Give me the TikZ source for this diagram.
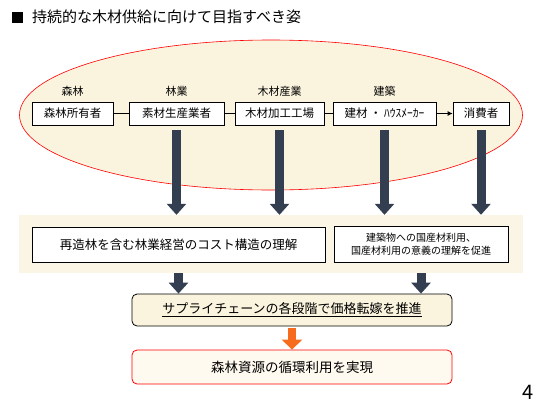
\documentclass[tikz,border=0pt]{standalone}
\usepackage{fontspec}
\setmainfont{Noto Sans CJK JP}
\usetikzlibrary{positioning,arrows.meta,shapes.geometric}
\definecolor{cream}{RGB}{250,243,222}
\definecolor{bandcream}{RGB}{250,245,228}
\definecolor{slate}{RGB}{51,63,80}
\definecolor{flame}{RGB}{247,108,28}
\definecolor{paper}{RGB}{255,250,240}

\begin{document}
\begin{tikzpicture}
    [
      x=1pt,
      y=-1pt,
      actor/.style=
      {
        draw,
        fill=white,
        line width=0.8pt,
        inner sep=0pt,
        minimum height=23pt,
        font=\fontsize{11.5}{13}\selectfont
      },
      sector/.style=
      {
        inner sep=0pt,
        font=\fontsize{11}{13}\selectfont
      },
      goal/.style=
      {
        draw,
        line width=0.8pt,
        inner sep=0pt,
        minimum height=36pt,
        align=center
      },
      bigarrow/.style=
      {
        draw=slate,
        line width=9pt,
        -{Triangle[width=19pt,length=11pt]}
      },
      link/.style=
      {
        line width=0.8pt
      }
    ]
    \useasboundingbox (0,0) rectangle (535,410);

    % title
    \node[anchor=west, inner sep=0pt, font=\fontsize{15}{17}\selectfont] (Title) at (12,17)
      {\rule{11pt}{11pt}\hspace{9pt}持続的な木材供給に向けて目指すべき姿};

    % supply chain
    \node[ellipse, draw=red, fill=cream, line width=0.6pt,
          minimum width=503pt, minimum height=150pt] (Chain) at (271,115) {};

    \node[actor, minimum width=81pt] (Owner) at (72.5,113.5) {森林所有者};
    \node[actor, minimum width=95pt] (Logger) at (176.5,113.5) {素材生産業者};
    \node[actor, minimum width=89pt] (Mill) at (279.5,113.5) {木材加工工場};
    \node[actor, minimum width=103pt] (Builder) at (384.5,113.5) {建材 ・ ﾊｳｽﾒｰｶｰ};
    \node[actor, minimum width=56pt] (Consumer) at (481,113.5) {消費者};

    \node[sector, above=5pt of Owner] (Forest) {森林};
    \node[sector, above=5pt of Logger] (Forestry) {林業};
    \node[sector, above=5pt of Mill] (Timber) {木材産業};
    \node[sector, above=5pt of Builder] (Building) {建築};

    \draw[link] (Owner) -- (Logger);
    \draw[link] (Logger) -- (Mill);
    \draw[link] (Mill) -- (Builder);
    \draw[link, -{Latex[length=5pt,width=5pt]}] (Builder) -- (Consumer);

    % understanding
    \node[fill=bandcream, minimum width=504pt, minimum height=58pt, inner sep=0pt] (Band) at (271,244) {};
    \node[goal, fill=white, minimum width=293pt, minimum height=35pt,
          font=\fontsize{12.5}{14}\selectfont] (Cost) at (178.5,244.5) {再造林を含む林業経営のコスト構造の理解};
    \node[goal, fill=white, minimum width=174pt, minimum height=36pt,
          font=\fontsize{10}{13}\selectfont] (Promote) at (421,244)
      {建築物への国産材利用、\\国産材利用の意義の理解を促進};

    \foreach \src in {Logger, Mill, Builder, Consumer}
      \draw[bigarrow] ([yshift=-5pt]\src.south) -- (\src.south |- Band.north);

    % outcome
    \node[goal, fill=cream, rounded corners=5pt, minimum width=320pt, minimum height=32pt,
          font=\fontsize{13}{15}\selectfont] (Pass) at (292,310)
      {\underline{サプライチェーンの各段階で価格転嫁を推進}};
    \node[goal, draw=red, fill=paper, rounded corners=5pt, minimum width=320pt, minimum height=34pt,
          font=\fontsize{13.5}{15}\selectfont] (Cycle) at (292,367) {森林資源の循環利用を実現};

    \draw[bigarrow] (Cost.south |- Band.south) -- (Cost.south |- Pass.north);
    \draw[bigarrow] (Promote.south |- Band.south) -- (Promote.south |- Pass.north);
    \draw[bigarrow, draw=flame, line width=8pt, -{Triangle[width=20pt,length=10pt]}]
      ([yshift=-2pt]Pass.south) -- (Cycle.north);

    % page number
    \node[inner sep=0pt, font=\fontsize{20}{22}\selectfont] (Page) at (528,392) {4};
  \end{tikzpicture}
\end{document}
